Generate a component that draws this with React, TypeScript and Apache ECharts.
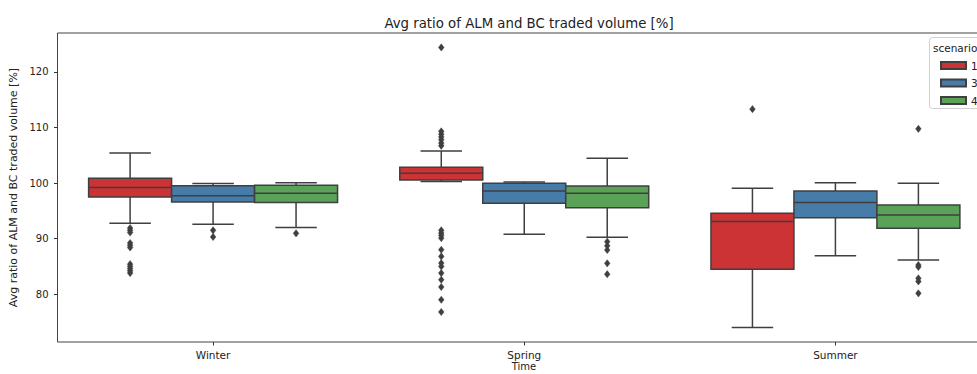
import React, { useEffect, useRef } from 'react';
import * as echarts from 'echarts';

const categories = ['Winter', 'Spring', 'Summer'];
const scenarios = ['1', '3', '4'];
const yTicks = [80, 90, 100, 110, 120];

// [lower whisker, Q1, median, Q3, upper whisker] per season
const box1 = [
  [92.75, 97.5, 99.2, 100.85, 105.4],
  [100.3, 100.55, 101.75, 102.85, 105.75],
  [74.0, 84.5, 93.1, 94.55, 99.05],
];
const box3 = [
  [92.6, 96.6, 97.7, 99.5, 99.9],
  [90.8, 96.35, 98.55, 99.95, 100.2],
  [86.9, 93.75, 96.5, 98.55, 100.05],
];
const box4 = [
  [92.0, 96.5, 98.15, 99.6, 100.05],
  [90.25, 95.55, 98.15, 99.45, 104.45],
  [86.15, 91.85, 94.25, 96.05, 99.95],
];

// [season index, value]
const outliers1 = [
  [0, 91.9], [0, 91.5], [0, 91.1], [0, 89.2], [0, 88.8], [0, 88.4], [0, 85.4], [0, 85.0], [0, 84.6], [0, 84.2], [0, 83.8],
  [1, 124.4], [1, 109.3], [1, 108.8], [1, 108.3], [1, 107.8], [1, 107.2], [1, 106.7],
  [1, 91.5], [1, 91.0], [1, 90.6], [1, 90.1], [1, 88.0], [1, 86.8], [1, 85.6], [1, 85.0], [1, 83.8], [1, 82.6], [1, 81.3], [1, 79.0], [1, 76.8],
  [2, 113.3],
];
const outliers3 = [
  [0, 91.5], [0, 90.3],
];
const outliers4 = [
  [0, 90.95],
  [1, 89.45], [1, 88.7], [1, 87.95], [1, 85.55], [1, 83.6],
  [2, 109.75], [2, 85.25], [2, 84.9], [2, 82.85], [2, 82.3], [2, 80.15],
];

const colors = ['#cb3335', '#477ca8', '#59a257'];
const LINE = '#3f3f3f';
const FONT = 'DejaVu Sans';

export default function App() {
  const ref = useRef<HTMLDivElement>(null);

  useEffect(() => {
    const chart = echarts.init(ref.current as HTMLDivElement, null, { renderer: 'svg' });
    const boxes = [box1, box3, box4];
    const outs = [outliers1, outliers3, outliers4];

    const boxSeries = scenarios.map((name, h) => ({
      type: 'custom',
      name,
      z: 2,
      itemStyle: { color: colors[h], borderColor: LINE, borderWidth: 0.3 },
      encode: { x: 0, y: [1, 2, 3, 4, 5] },
      data: boxes[h].map((b, i) => [i, ...b]),
      renderItem: (params: any, api: any) => {
        const cat = api.value(0);
        const band = api.size([1, 0])[0];
        const w = (band * 0.8) / 3;
        const base = api.coord([cat, api.value(3)]);
        const cx = base[0] + (h - 1) * w;
        const Y = (v: number) => api.coord([cat, v])[1];
        const lo = Y(api.value(1));
        const q1 = Y(api.value(2));
        const md = Y(api.value(3));
        const q3 = Y(api.value(4));
        const hi = Y(api.value(5));
        const ls = { stroke: LINE, lineWidth: 1.5 };
        return {
          type: 'group',
          children: [
            { type: 'line', shape: { x1: cx, y1: q3, x2: cx, y2: hi }, style: ls },
            { type: 'line', shape: { x1: cx, y1: q1, x2: cx, y2: lo }, style: ls },
            { type: 'line', shape: { x1: cx - w / 4, y1: hi, x2: cx + w / 4, y2: hi }, style: ls },
            { type: 'line', shape: { x1: cx - w / 4, y1: lo, x2: cx + w / 4, y2: lo }, style: ls },
            {
              type: 'rect',
              shape: { x: cx - w / 2, y: q3, width: w, height: q1 - q3 },
              style: { fill: colors[h], stroke: LINE, lineWidth: 1.5 },
            },
            { type: 'line', shape: { x1: cx - w / 2, y1: md, x2: cx + w / 2, y2: md }, style: ls },
          ],
        };
      },
    }));

    const outlierSeries = scenarios.map((name, h) => ({
      type: 'custom',
      name: 'out' + name,
      z: 3,
      encode: { x: 0, y: 1 },
      data: outs[h],
      renderItem: (params: any, api: any) => {
        const cat = api.value(0);
        const band = api.size([1, 0])[0];
        const w = (band * 0.8) / 3;
        const p = api.coord([cat, api.value(1)]);
        const cx = p[0] + (h - 1) * w;
        const cy = p[1];
        return {
          type: 'polygon',
          shape: { points: [[cx, cy - 3.6], [cx + 2.8, cy], [cx, cy + 3.6], [cx - 2.8, cy]] },
          style: { fill: LINE, stroke: LINE, lineWidth: 0.5 },
        };
      },
    }));

    chart.setOption({
      animation: false,
      textStyle: { fontFamily: FONT },
      title: {
        text: 'Avg ratio of ALM and BC traded volume [%]',
        left: 524,
        top: 12,
        textAlign: 'center',
        textStyle: { fontFamily: FONT, fontSize: 13.3, fontWeight: 'normal', color: '#222' },
      },
      grid: {
        left: 57.5,
        top: 33,
        right: -14,
        bottom: 32,
        outerBoundsMode: 'none',
        containLabel: false,
        show: true,
        borderColor: '#444',
        borderWidth: 1,
        backgroundColor: 'transparent',
      },
      legend: {
        data: scenarios,
        orient: 'vertical',
        left: 935,
        top: 55,
        itemWidth: 25,
        itemHeight: 7,
        itemGap: 6.5,
        icon: 'rect',
        z: 10,
        textStyle: { fontFamily: FONT, fontSize: 10.5, color: '#222' },
      },
      graphic: [
        {
          type: 'rect',
          z: 8,
          shape: { x: 929.5, y: 37.5, width: 80, height: 71, r: 3 },
          style: { fill: 'rgba(255,255,255,0.85)', stroke: '#d0d0d0', lineWidth: 1 },
        },
        {
          type: 'text',
          z: 9,
          x: 933,
          y: 48,
          style: { text: 'scenario', font: `10.5px "${FONT}"`, fill: '#222', verticalAlign: 'middle', align: 'left' },
        },
        {
          type: 'text',
          z: 9,
          x: 524,
          y: 366.5,
          style: { text: 'Time', font: `10px "${FONT}"`, fill: '#222', verticalAlign: 'middle', align: 'center' },
        },
      ],
      xAxis: {
        type: 'category',
        data: categories,
        axisLine: { show: false },
        axisTick: { show: true, alignWithLabel: true, length: 3.5, lineStyle: { color: '#333' } },
        axisLabel: { fontFamily: FONT, fontSize: 10.5, color: '#222', margin: 7 },
        splitLine: { show: false },
      },
      yAxis: {
        type: 'value',
        min: 71.4,
        max: 127,
        name: 'Avg ratio of ALM and BC traded volume [%]',
        nameLocation: 'middle',
        nameRotate: 90,
        nameGap: 35,
        nameTextStyle: { fontFamily: FONT, fontSize: 11, color: '#222' },
        axisLine: { show: false },
        axisTick: { show: true, length: 3.5, customValues: yTicks, lineStyle: { color: '#333' } },
        axisLabel: { fontFamily: FONT, fontSize: 10, color: '#222', margin: 9, customValues: yTicks },
        splitLine: { show: false },
      },
      series: [...boxSeries, ...outlierSeries],
    });

    return () => chart.dispose();
  }, []);

  return (
    <div
      ref={ref}
      style={{ position: 'fixed', left: 0, top: 0, width: 977, height: 374, background: '#fff' }}
    />
  );
}
